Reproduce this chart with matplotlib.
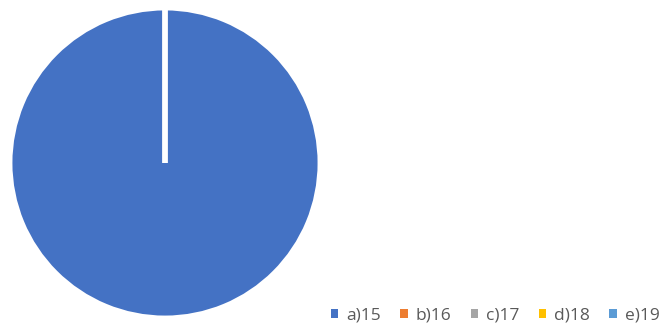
import matplotlib
matplotlib.use("Agg")
import matplotlib.pyplot as plt
from matplotlib.patches import Patch

labels = ["a)15", "b)16", "c)17", "d)18", "e)19"]
values = [100, 0, 0, 0, 0]
colors = ["#4472C4", "#ED7D31", "#A5A5A5", "#FFC000", "#5B9BD5"]

fig = plt.figure(figsize=(6.7, 3.29), dpi=100)
ax = fig.add_axes([10/670, 11/329, 310/670, 310/329])
ax.pie(values, colors=colors, startangle=90, counterclock=False,
       wedgeprops=dict(edgecolor="white", linewidth=3.5))
ax.set_xlim(-1.0, 1.0)
ax.set_ylim(-1.0, 1.0)
ax.set_aspect("equal")

handles = [Patch(facecolor=c, edgecolor="none") for c in colors]
leg = fig.legend(handles, labels, ncol=5, loc="center right",
                 bbox_to_anchor=(1.0, 1 - 316/329), frameon=False,
                 prop={"family": "Open Sans", "size": 12.5},
                 handlelength=0.45, handleheight=0.45, handletextpad=0.45,
                 columnspacing=1.1, labelcolor="#595959", borderaxespad=0.2)
fig.savefig("out.png", dpi=100)
